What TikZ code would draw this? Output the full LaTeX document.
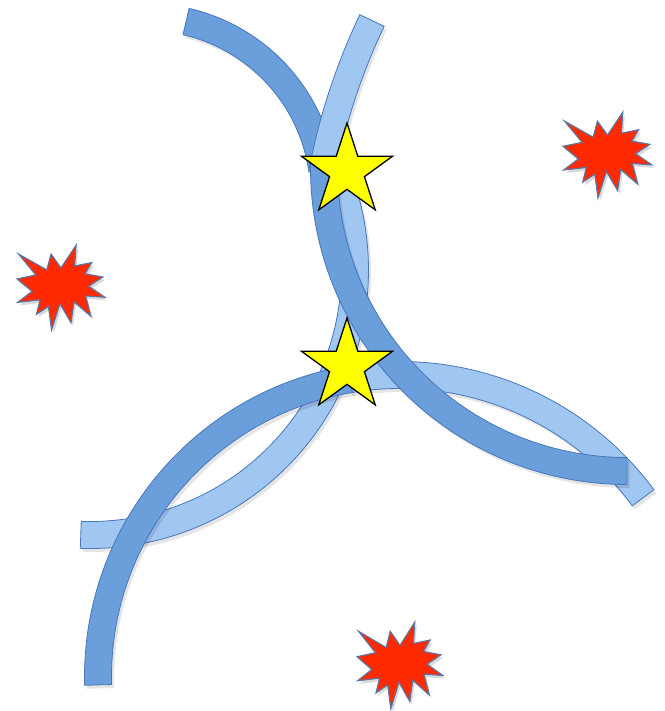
\documentclass[tikz,border=0pt]{standalone}
\usetikzlibrary{shapes.geometric}
\definecolor{bandDark}{RGB}{106,159,219}
\definecolor{bandLight}{RGB}{160,198,242}
\definecolor{bandEdge}{RGB}{72,118,186}
\definecolor{burstRed}{RGB}{255,42,0}
\definecolor{burstEdge}{RGB}{88,118,168}
\definecolor{starYellow}{RGB}{255,255,0}
\tikzset{
  bandshape/.style={draw=bandEdge, line width=0.8pt, line join=miter},
  bandshadow/.style={fill=black, opacity=0.10},
  starfive/.style={star, star points=5, star point ratio=2.618, minimum size=96pt, inner sep=0pt, fill=starYellow, draw=black, line width=1.3pt},
  burstshape/.style={fill=burstRed, draw=burstEdge, line width=1.1pt, line join=miter},
  burstshadow/.style={fill=black, opacity=0.15},
}
% band: cx cy R a1 a2 colour
\newcommand{\bandarc}[6]{%
  \fill[bandshadow] ([shift={(#1+2.5,#2+3.5)}]#4:{#3+13.5}) arc[start angle=#4, end angle=#5, radius={#3+13.5}]
     -- ([shift={(#1+2.5,#2+3.5)}]#5:{#3-13.5}) arc[start angle=#5, end angle=#4, radius={#3-13.5}] -- cycle;
  \filldraw[bandshape, fill=#6] ([shift={(#1,#2)}]#4:{#3+13.5}) arc[start angle=#4, end angle=#5, radius={#3+13.5}]
     -- ([shift={(#1,#2)}]#5:{#3-13.5}) arc[start angle=#5, end angle=#4, radius={#3-13.5}] -- cycle;
}
\newcommand{\burstpath}{(108,58) -- (145.22,0) -- (141.55,53.25) -- (183.80,44.57) -- (167.02,73.15) -- (210.97,81.37) -- (176.07,104.75) -- (216,132.90) -- (168.37,129.42) -- (181.45,180.95) -- (140.20,144.57) -- (132.47,197.37) -- (105.32,149.35) -- (84.85,216) -- (77.15,156.27) -- (47.62,176.17) -- (56.67,139.37) -- (1.35,145.87) -- (37.22,117.75) -- (0,86.15) -- (46.27,76.17) -- (3.70,22.95) -- (73.12,63.20) -- (83.52,22.95) -- cycle}
\newcommand{\burstat}[4]{%
  \begin{scope}[shift={(#1+2,#2+3)}, xscale=#3/216, yscale=#4/216]
    \fill[burstshadow] \burstpath;
  \end{scope}
  \begin{scope}[shift={(#1,#2)}, xscale=#3/216, yscale=#4/216]
    \filldraw[burstshape] \burstpath;
  \end{scope}
}
\begin{document}
\begin{tikzpicture}[x=1pt, y=1pt, yscale=-1]
\useasboundingbox (0,0) rectangle (664,711);
% bands, back to front
\bandarc{90}{270}{265}{92}{-21.4}{bandLight}    % L3
\bandarc{146}{195}{178}{283}{352}{bandDark}     % D3
\bandarc{937}{290}{626}{191}{205.5}{bandLight}  % L2
\bandarc{400}{677}{302}{260}{323.6}{bandLight}  % L1
\bandarc{400}{677}{302}{178.5}{260.5}{bandDark} % D1
\bandarc{627}{168}{303}{90}{181}{bandDark}      % D2
% stars
\node[starfive] (startop) at (347,171) {};
\node[starfive] (starlow) at (347,366) {};
% bursts
\burstat{17}{245}{88}{85}
\burstat{563}{112}{89}{86}
\burstat{357}{622}{86}{87}
\end{tikzpicture}
\end{document}
